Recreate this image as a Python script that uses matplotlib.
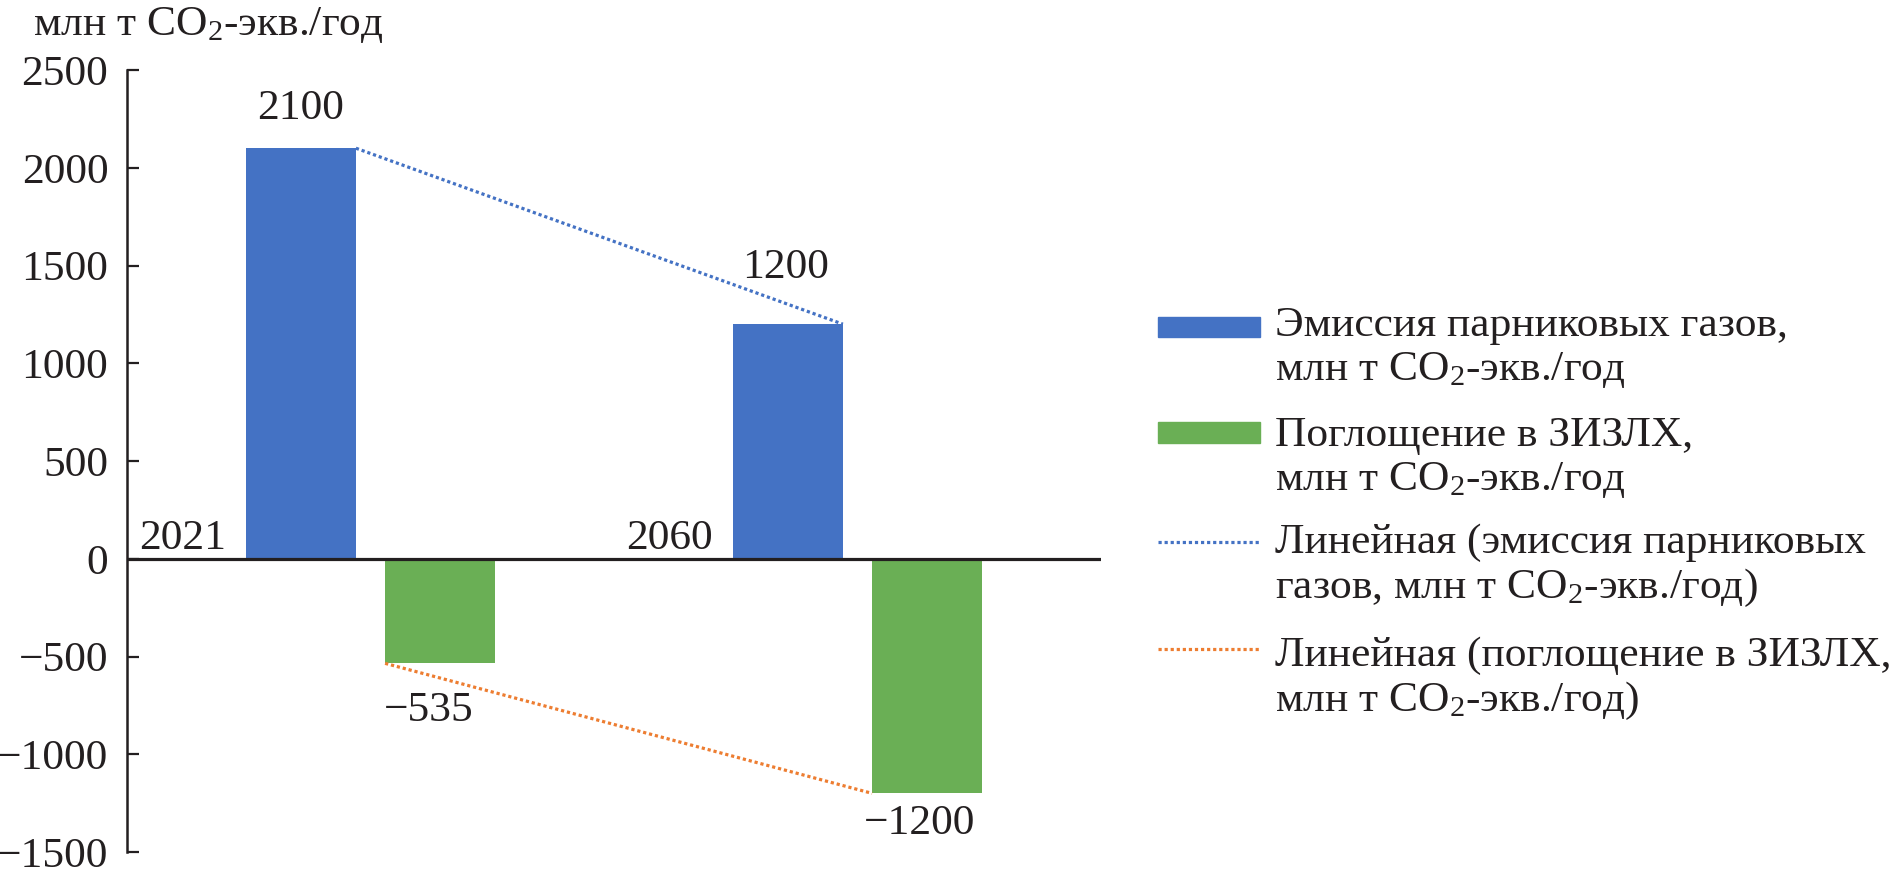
import matplotlib
matplotlib.use('Agg')
import matplotlib.pyplot as plt
from matplotlib.lines import Line2D
from matplotlib.patches import Rectangle
import numpy as np

plt.rcParams['font.family'] = ['Liberation Serif', 'DejaVu Serif']
plt.rcParams['mathtext.fontset'] = 'custom'
plt.rcParams['mathtext.rm'] = 'Liberation Serif'
plt.rcParams['mathtext.it'] = 'Liberation Serif:italic'
plt.rcParams['mathtext.bf'] = 'Liberation Serif:bold'

# ---- data ----
years = ['2021', '2060']
emission = [2100, 1200]
absorption = [-535, -1200]
emission_labels = ['2100', '1200']
absorption_labels = ['\u2212535', '\u22121200']
yticks = [-1500, -1000, -500, 0, 500, 1000, 1500, 2000, 2500]
ytick_labels = ['\u22121500', '\u22121000', '\u2212500', '0', '500', '1000', '1500', '2000', '2500']
unit_title = 'млн т CO$_2$-экв./год'
legend_texts = [
    ['Эмиссия парниковых газов,', 'млн т CO$_2$-экв./год'],
    ['Поглощение в ЗИЗЛХ,', 'млн т CO$_2$-экв./год'],
    ['Линейная (эмиссия парниковых', 'газов, млн т CO$_2$-экв./год)'],
    ['Линейная (поглощение в ЗИЗЛХ,', 'млн т CO$_2$-экв./год)'],
]

# ---- style ----
BLUE = '#4472C4'
GREEN = '#6AAF55'
ORANGE = '#ED7D31'
INK = '#231F20'
FS = 31.3
W, H = 1897, 877

fig = plt.figure(figsize=(W / 100, H / 100), dpi=100)
ax = fig.add_axes([127 / W, 1 - 852 / H, 974 / W, 782 / H])

x = np.arange(len(years))
width = 0.226
off = 0.143
ax.bar(x - off, emission, width, color=BLUE, zorder=2)
ax.bar(x + off, absorption, width, color=GREEN, zorder=2)
dot = (0, (1.0, 0.9))
ax.plot(x - off + width / 2, emission, ls=dot, color=BLUE, lw=2.3, zorder=4)
ax.plot(x + off - width / 2, absorption, ls=dot, color=ORANGE, lw=2.3, zorder=4)

ax.set_xlim(-0.5, 1.5)
ax.set_ylim(-1500, 2500)
for s in ['top', 'right', 'bottom']:
    ax.spines[s].set_visible(False)
ax.spines['left'].set_linewidth(1.8)
ax.spines['left'].set_color(INK)
ax.axhline(0, color=INK, lw=2.3, zorder=3)
ax.set_xticks([])
ax.set_yticks(yticks)
ax.set_yticklabels(ytick_labels)
ax.tick_params(axis='y', direction='in', length=8.6, width=1.6, pad=13.5,
               labelsize=FS, colors=INK)

# category labels
for xi, lab in zip(x, years):
    ax.annotate(lab, (xi - 0.297, 0), xytext=(0, 10), textcoords='offset pixels',
                ha='right', va='baseline', fontsize=FS, color=INK)

# data labels
em_off = [(0, 29), (-2, 46)]
ab_off = [(-11, -58), (-8, -41)]
for xi, v, lab, o in zip(x, emission, emission_labels, em_off):
    ax.annotate(lab, (xi - off, v), xytext=o, textcoords='offset pixels',
                ha='center', va='baseline', fontsize=FS, color=INK)
for xi, v, lab, o in zip(x, absorption, absorption_labels, ab_off):
    ax.annotate(lab, (xi + off, v), xytext=o, textcoords='offset pixels',
                ha='center', va='baseline', fontsize=FS, color=INK)

# axis unit title
fig.text(33 / W, 1 - 35 / H, unit_title, fontsize=FS, color=INK, va='baseline', ha='left')

# manual legend (pixel positions from top of figure)
handle_y = [327, 432.5, 542, 649]
text_y = [336, 446, 553, 666]
line_gap = 44.5
hx0, hx1, tx = 1158, 1260, 1275
for i, (hy, ty, lines) in enumerate(zip(handle_y, text_y, legend_texts)):
    if i < 2:
        col = BLUE if i == 0 else GREEN
        fig.patches.append(Rectangle((hx0 / W, 1 - (hy + 10.3) / H), (hx1 - hx0) / W, 20.6 / H,
                                     transform=fig.transFigure, color=col))
    else:
        col = BLUE if i == 2 else ORANGE
        fig.lines.append(Line2D([hx0 / W, hx1 / W], [1 - hy / H, 1 - hy / H],
                                transform=fig.transFigure, color=col, lw=2.3, ls=dot))
    for k, t in enumerate(lines):
        fig.text(tx / W, 1 - (ty + k * line_gap) / H, t, fontsize=FS, color=INK,
                 va='baseline', ha='left')

fig.savefig('out.png', dpi=100)
